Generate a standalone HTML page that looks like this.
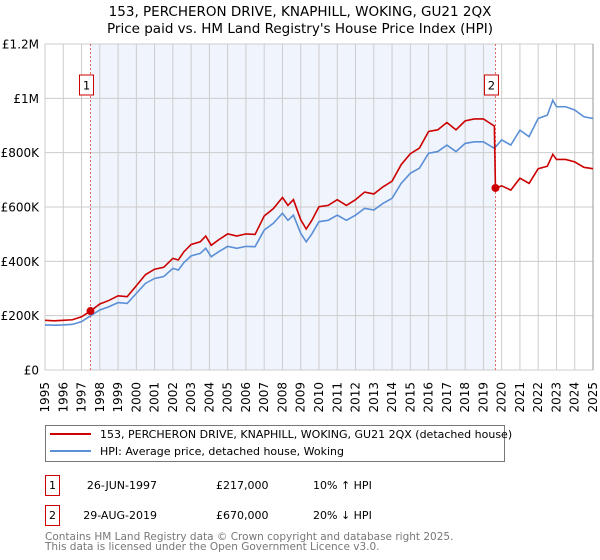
<!DOCTYPE html>
<html><head><meta charset="utf-8"><style>
body{margin:0;background:#fff;font-family:"DejaVu Sans","Liberation Sans",sans-serif;}
#wrap{position:relative;width:600px;height:560px;overflow:hidden}
svg{display:block;position:absolute;left:0;top:0}
.xl{position:absolute;top:382px;font-size:12px;line-height:14px;white-space:nowrap;writing-mode:vertical-rl;writing-mode:sideways-lr;font-family:"DejaVu Sans","Liberation Sans",sans-serif}
</style></head><body>
<div id="wrap">
<svg width="600" height="560" xmlns="http://www.w3.org/2000/svg" font-family="DejaVu Sans, Liberation Sans, sans-serif">
<text x="300" y="16" text-anchor="middle" font-size="13.5">153, PERCHERON DRIVE, KNAPHILL, WOKING, GU21 2QX</text>
<text x="300" y="33" text-anchor="middle" font-size="13.5">Price paid vs. HM Land Registry's House Price Index (HPI)</text>
<g id="plot"></g>
<g>
<rect x="45.5" y="425.5" width="459" height="36" fill="#fff" stroke="#777"/>
<line x1="50" y1="434" x2="91" y2="434" stroke="#cc0000" stroke-width="2"/>
<text x="100" y="438" font-size="11">153, PERCHERON DRIVE, KNAPHILL, WOKING, GU21 2QX (detached house)</text>
<line x1="50" y1="451" x2="91" y2="451" stroke="#5b8fd6" stroke-width="2"/>
<text x="100" y="455" font-size="11">HPI: Average price, detached house, Woking</text>
</g>
<g font-size="11">
<rect x="45.5" y="475.5" width="14" height="20" fill="#fff" stroke="#cc0000"/>
<text x="52.5" y="489" text-anchor="middle">1</text>
<text x="157" y="489" text-anchor="end">26-JUN-1997</text>
<text x="216" y="489">£217,000</text>
<text x="313" y="489">10% ↑ HPI</text>
<rect x="45.5" y="505.5" width="14" height="20" fill="#fff" stroke="#cc0000"/>
<text x="52.5" y="519" text-anchor="middle">2</text>
<text x="157" y="519" text-anchor="end">29-AUG-2019</text>
<text x="216" y="519">£670,000</text>
<text x="313" y="519">20% ↓ HPI</text>
</g>
<text x="45" y="540" font-size="10.5" fill="#777">Contains HM Land Registry data © Crown copyright and database right 2025.</text>
<text x="45" y="550" font-size="10.5" fill="#777">This data is licensed under the Open Government Licence v3.0.</text>
</svg>
</div>
<script>
const hpiYears=[1995,1995.5,1996,1996.5,1997,1997.5,1998,1998.5,1999,1999.5,2000,2000.5,2001,2001.5,2002,2002.3,2002.6,2003,2003.5,2003.8,2004.1,2004.5,2005,2005.5,2006,2006.5,2007,2007.5,2008,2008.3,2008.6,2009,2009.3,2009.6,2010,2010.5,2011,2011.5,2012,2012.5,2013,2013.5,2014,2014.5,2015,2015.5,2016,2016.5,2017,2017.5,2018,2018.5,2019,2019.3,2019.6,2020,2020.5,2021,2021.5,2022,2022.5,2022.8,2023,2023.5,2024,2024.5,2025];
const hpiValues=[166,165,166,168,178,200,221,233,248,245,282,319,337,344,374,368,395,420,429,448,417,435,455,448,455,454,515,540,577,551,570,503,472,500,546,551,570,551,570,595,589,613,632,687,724,743,798,804,828,804,834,840,840,828,816,847,828,883,859,926,938,993,969,969,957,932,926];
const propYears=[1995,1995.5,1996,1996.5,1997,1997.49,1998,1998.5,1999,1999.5,2000,2000.5,2001,2001.5,2002,2002.3,2002.6,2003,2003.5,2003.8,2004.1,2004.5,2005,2005.5,2006,2006.5,2007,2007.5,2008,2008.3,2008.6,2009,2009.3,2009.6,2010,2010.5,2011,2011.5,2012,2012.5,2013,2013.5,2014,2014.5,2015,2015.5,2016,2016.5,2017,2017.5,2018,2018.5,2019,2019.3,2019.6,2019.66,2020,2020.5,2021,2021.5,2022,2022.5,2022.8,2023,2023.5,2024,2024.5,2025];
const propValues=[183,181,183,185,196,217,243,256,273,270,310,351,371,378,411,405,435,462,472,493,459,479,501,493,501,499,567,594,635,606,627,553,519,550,601,606,627,606,627,655,648,674,695,756,796,817,878,884,911,884,917,924,924,911,898,670,678,662,706,687,741,750,794,775,775,766,746,741];
const saleYears=[1997.49,2019.66];
const saleValues=[217,670];
const xTicks=[1995,1996,1997,1998,1999,2000,2001,2002,2003,2004,2005,2006,2007,2008,2009,2010,2011,2012,2013,2014,2015,2016,2017,2018,2019,2020,2021,2022,2023,2024,2025];
const yTicks=[0,200,400,600,800,1000,1200];
const yTickLabels=["£0","£200K","£400K","£600K","£800K","£1M","£1.2M"];

const NS="http://www.w3.org/2000/svg";
const X0=45,X1=593,Y0=370,Y1=44;
const xs=y=>X0+(y-1995)/30*(X1-X0);
const ys=v=>Y0-v/1200*(Y0-Y1);
const plot=document.getElementById('plot');
const wrap=document.getElementById('wrap');
function mk(tag,attrs,parent){const e=document.createElementNS(NS,tag);for(const k in attrs)e.setAttribute(k,attrs[k]);(parent||plot).appendChild(e);return e;}

const shade=mk('rect',{x:xs(saleYears[0]),y:Y1,width:xs(saleYears[1])-xs(saleYears[0]),height:Y0-Y1,fill:'#f0f4fd'});



xTicks.forEach(t=>{
  const g=mk('line',{x1:xs(t),x2:xs(t),y1:Y1,y2:Y0,stroke:'#ccc','stroke-width':1});
  
  
  const d=document.createElement('div');
  d.className='xl';
  d.style.left=(xs(t)-7)+'px';
  d.textContent=t;
  
  
  wrap.appendChild(d);
});
yTicks.forEach((t,i)=>{
  const g=mk('line',{x1:X0,x2:X1,y1:ys(t),y2:ys(t),stroke:'#ccc','stroke-width':1});
  
  
  const tx=mk('text',{x:39,y:ys(t)+4.5,'font-size':12,'text-anchor':'end'});
  tx.textContent=yTickLabels[i];
  
  
});
const edge=mk('line',{x1:X1,x2:X1,y1:Y1,y2:Y0,stroke:'#999','stroke-width':1});



saleYears.forEach((s,i)=>{
  const l=mk('line',{x1:xs(s),x2:xs(s),y1:Y1,y2:Y0,stroke:'#e06666','stroke-width':1,'stroke-dasharray':'2,2'});
  
  
  const r=mk('rect',{x:xs(s)-11,y:75,width:14,height:20,fill:'#fff',stroke:'#cc0000'});
  
  
  const t=mk('text',{x:xs(s)-4,y:89.5,'font-size':11.5,'text-anchor':'middle'});
  t.textContent=String(i+1);
  
  
});

const hp=mk('polyline',{points:hpiYears.map((y,i)=>xs(y)+','+ys(hpiValues[i])).join(' '),fill:'none',stroke:'#5b8fd6','stroke-width':1.6});


const pp=mk('polyline',{points:propYears.map((y,i)=>xs(y)+','+ys(propValues[i])).join(' '),fill:'none',stroke:'#cc0000','stroke-width':1.6});


saleYears.forEach((s,i)=>{
  const c=mk('circle',{cx:xs(s),cy:ys(saleValues[i]),r:4,fill:'#cc0000'});
  
  
});
</script>
</body></html>
